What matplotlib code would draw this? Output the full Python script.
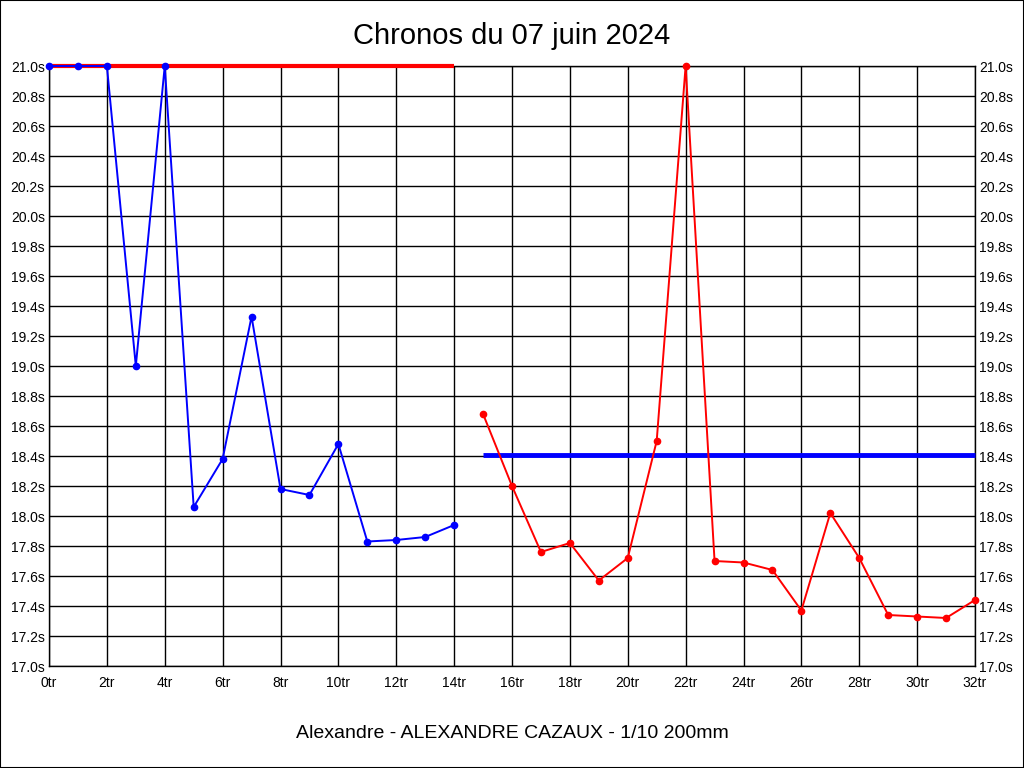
import numpy as np
import matplotlib.pyplot as plt
from matplotlib.patches import Rectangle

plt.rcParams['font.family'] = ['Liberation Sans', 'DejaVu Sans']

# tours 0..14 (blue) and 15..32 (red), in seconds
tours_blue = list(range(0, 15))
chronos_blue = [21.0, 21.0, 21.0, 19.0, 21.0, 18.06, 18.38, 19.33, 18.18, 18.14,
                18.48, 17.83, 17.84, 17.86, 17.94]
tours_red = list(range(15, 33))
chronos_red = [18.68, 18.20, 17.76, 17.82, 17.57, 17.72, 18.50, 21.0, 17.70, 17.69,
               17.64, 17.37, 18.02, 17.72, 17.34, 17.33, 17.32, 17.44]

# reference lines
ref_red_x = [0, 14]
ref_red_y = [21.0, 21.0]
ref_blue_x = [15, 32]
ref_blue_y = [18.41, 18.41]

title = "Chronos du 07 juin 2024"
footer = "Alexandre - ALEXANDRE CAZAUX - 1/10 200mm"

fig = plt.figure(figsize=(10.24, 7.68), dpi=100)
fig.patches.append(Rectangle((0, 0), 1, 1, transform=fig.transFigure, fill=False,
                             edgecolor='black', linewidth=1.5))
ax = fig.add_axes([49/1024, 1-666/768, 926/1024, 600/768])

ax.set_xlim(0, 32)
ax.set_ylim(17.0, 21.0)
ax.set_xticks(np.arange(0, 33, 2))
ax.set_xticklabels([f"{int(v)}tr" for v in np.arange(0, 33, 2)])
yt = np.round(np.arange(17.0, 21.01, 0.2), 1)
ax.set_yticks(yt)
ax.set_yticklabels([f"{v:.1f}s" for v in yt])
ax.grid(True, color='black', linewidth=1)
ax.set_axisbelow(True)
ax.tick_params(axis='y', length=0, pad=3, labelsize=10, labelright=True)
ax.tick_params(axis='x', length=0, pad=7, labelsize=10)
for s in ax.spines.values():
    s.set_color('black')
    s.set_linewidth(1)

ax.plot(ref_red_x, ref_red_y, color='#ff0000', linewidth=3, clip_on=False, zorder=3,
        solid_capstyle='butt')
ax.plot(ref_blue_x, ref_blue_y, color='#0000ff', linewidth=3.5, clip_on=False, zorder=3,
        solid_capstyle='butt')
ax.plot(tours_blue, chronos_blue, color='#0000ff', linewidth=1.4, marker='o',
        markersize=4.5, clip_on=False, zorder=4)
ax.plot(tours_red, chronos_red, color='#ff0000', linewidth=1.4, marker='o',
        markersize=4.5, clip_on=False, zorder=4)

fig.text(512/1024, 1-36/768, title, ha='center', va='center', fontsize=21)
fig.text(512/1024, 1-733/768, footer, ha='center', va='center', fontsize=14)

fig.savefig("out.png", dpi=100)
